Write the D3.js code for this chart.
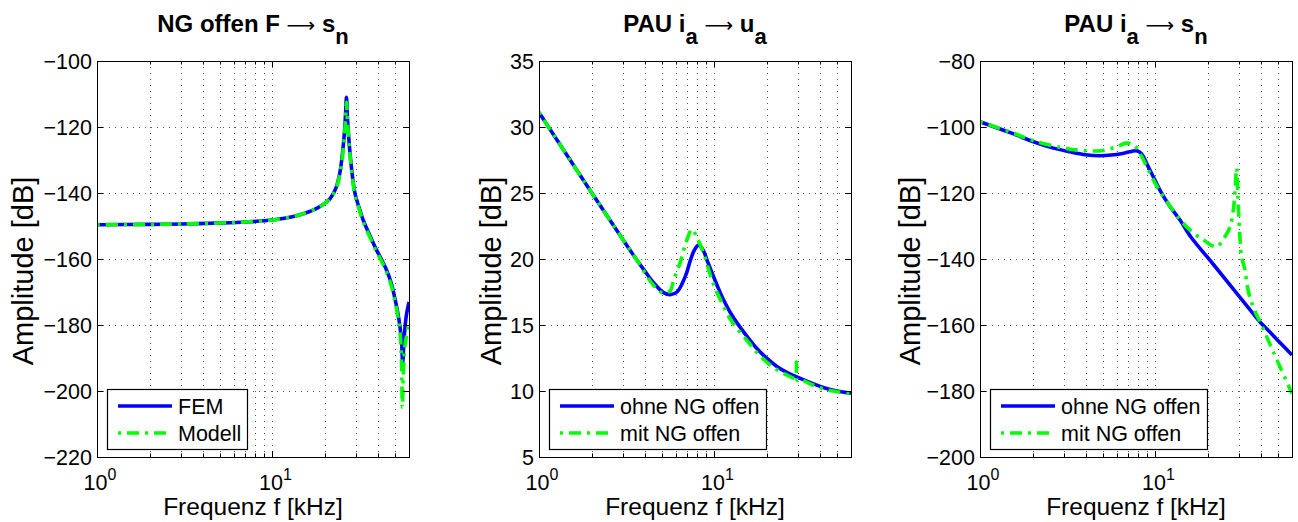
<!DOCTYPE html>
<html>
<head>
<meta charset="utf-8">
<script src="https://cdn.jsdelivr.net/npm/d3@7/dist/d3.min.js"></script>
<style>
  html, body { margin: 0; padding: 0; background: #fff; }
  svg { display: block; }
  text { font-family: "Liberation Sans", Arial, Helvetica, sans-serif; fill: #000; }
</style>
</head>
<body>
<svg id="chart" width="1298" height="522"></svg>
<script>
// ---------- DATA ----------
// Plot 1: NG offen F -> s_n
const freqFEM1 = [1, 2, 3, 5, 7, 10, 13, 15, 18, 20, 21.3, 23, 24.2, 25.5, 26.1, 26.4, 26.8, 27.9, 29.5, 31, 32.9, 36, 39.2, 42, 44.8, 47.5, 49.9, 51.8, 53.3, 54.5, 55.2, 56.3, 57.8, 60];
const ampFEM1  = [-149.6, -149.5, -149.4, -149.1, -148.8, -148.2, -147.2, -146.3, -144.6, -143.0, -141.7, -138.5, -134, -124, -116, -111, -118, -130, -140, -144, -148.2, -153, -157.3, -160.3, -163.5, -167.3, -172.0, -176.3, -180.5, -185.5, -191.5, -184, -177.5, -173];
const freqMod1 = [1, 2, 3, 5, 7, 10, 13, 15, 18, 20, 21.3, 23, 24.2, 25.5, 26.1, 26.4, 26.8, 27.9, 29.5, 31, 32.9, 36, 39.2, 42, 44.8, 47.5, 49.9, 51.8, 53.3, 54.3, 55, 55.7, 57, 60];
const ampMod1  = [-149.6, -149.5, -149.4, -149.1, -148.8, -148.2, -147.2, -146.3, -144.6, -143.0, -141.8, -138.7, -134.5, -125, -117.5, -112.5, -119, -130.5, -140.5, -144.5, -148.8, -153.5, -157.8, -160.8, -164.1, -168.0, -172.8, -177.3, -182, -190, -205, -195, -186, -179.5];

// Plot 2: PAU i_a -> u_a
const freqOhne2 = [1, 2, 3, 3.62, 4.0, 4.5, 5.13, 5.6, 6.12, 6.83, 7.29, 7.7, 8.13, 8.6, 9.08, 10, 11, 12.5, 15.4, 17.5, 20, 22.8, 26, 29.7, 35, 42.1, 50, 60];
const ampOhne2  = [31.1, 25.0, 21.5, 19.9, 19.1, 18.2, 17.45, 17.3, 17.5, 18.7, 19.9, 20.7, 21.05, 20.7, 19.9, 18.5, 17.2, 15.8, 14.1, 13.2, 12.45, 11.84, 11.39, 11.05, 10.65, 10.25, 10.0, 9.83];
const freqMit2  = [1, 2, 3, 3.62, 4.5, 5.13, 5.6, 5.85, 6.4, 6.9, 7.45, 7.95, 8.7, 9.5, 10, 11, 12.5, 15.4, 17.5, 20, 22.8, 26, 28.8, 29.3, 29.7, 30.5, 35, 42.1, 50, 60];
const ampMit2   = [31.1, 25.0, 21.5, 19.9, 18.0, 17.4, 17.6, 18.4, 19.8, 21.3, 22.25, 21.6, 20.4, 18.7, 17.9, 16.7, 15.3, 13.8, 12.9, 12.15, 11.6, 11.2, 11.0, 12.2, 10.8, 10.9, 10.55, 10.15, 9.95, 9.8];

// Plot 3: PAU i_a -> s_n
const freqOhne3 = [1, 1.5, 2, 2.5, 3.25, 4, 4.8, 5.6, 6.5, 7.3, 7.8, 8.3, 8.9, 9.7, 10.6, 12, 13.8, 16, 20.4, 25, 30, 35, 39.3, 45, 52, 60];
const ampOhne3  = [-98.4, -101.8, -104.4, -106.1, -107.5, -108.4, -108.7, -108.5, -108, -107.4, -107.2, -108, -111, -115, -119.1, -123.8, -128.2, -133.5, -140.3, -146.1, -151.3, -155.7, -159, -162.2, -165.7, -169.1];
const freqMit3  = [1, 1.5, 2, 3, 4, 5, 6, 6.8, 7.5, 8.2, 9.3, 10.6, 13.8, 15.7, 18.7, 22.3, 24.5, 26.5, 27.8, 28.5, 29, 29.5, 30.2, 31, 32.3, 33.3, 34.5, 37, 40.2, 45, 51, 60];
const ampMit3   = [-98.4, -101.6, -104.1, -106.4, -107.2, -107.1, -106, -104.9, -105.4, -108.2, -114, -119.5, -128, -131.2, -134.2, -136.3, -133.8, -130.5, -125, -118, -112.5, -121, -132, -139.5, -143, -148, -151.5, -156, -160, -165.9, -172.4, -180.8];

// Axis tick definitions
const xMajorTicks = [1, 10];
const xMinorTicks = [2, 3, 4, 5, 6, 7, 8, 9, 20, 30, 40, 50];
const yTicks1 = [-220, -200, -180, -160, -140, -120, -100];
const yTicks2 = [5, 10, 15, 20, 25, 30, 35];
const yTicks3 = [-200, -180, -160, -140, -120, -100, -80];

const titles = [
  [["NG offen F ", 0], ["\u27F6", 2], [" s", 0], ["n", 1]],
  [["PAU i", 0], ["a", 1], [" ", 0], ["\u27F6", 2], [" u", 0], ["a", 1]],
  [["PAU i", 0], ["a", 1], [" ", 0], ["\u27F6", 2], [" s", 0], ["n", 1]]
];
const legends = [
  ["FEM", "Modell"],
  ["ohne NG offen", "mit NG offen"],
  ["ohne NG offen", "mit NG offen"]
];
const xLabel = "Frequenz f [kHz]";
const yLabel = "Amplitude [dB]";

// ---------- LAYOUT ----------
const svg = d3.select("#chart");
const plotTop = 61, plotBottom = 457;
const panels = [
  { left: 97,  right: 409,  yDomain: [-220, -100], yTicks: yTicks1, ylx: 33,
    series: [{f: freqFEM1, a: ampFEM1}, {f: freqMod1, a: ampMod1}], legendW: 140 },
  { left: 539, right: 851,  yDomain: [5, 35], yTicks: yTicks2, ylx: 501,
    series: [{f: freqOhne2, a: ampOhne2}, {f: freqMit2, a: ampMit2}], legendW: 217 },
  { left: 980, right: 1292, yDomain: [-200, -80], yTicks: yTicks3, ylx: 920,
    series: [{f: freqOhne3, a: ampOhne3}, {f: freqMit3, a: ampMit3}], legendW: 217 }
];
const styles = [
  { color: "#0000ff", dash: null },
  { color: "#00ff00", dash: "3,6,12,6" }
];
const lw = 3.6;

panels.forEach((p, i) => {
  const x = d3.scaleLog().domain([1, 60]).range([p.left, p.right]);
  const y = d3.scaleLinear().domain(p.yDomain).range([plotBottom, plotTop]);
  const g = svg.append("g");

  // grid
  const grid = g.append("g").attr("stroke", "#222").attr("stroke-width", 1)
    .attr("stroke-dasharray", "1,5").attr("fill", "none").attr("opacity", 0.75);
  xMajorTicks.concat(xMinorTicks).forEach(t => {
    const xx = Math.round(x(t)) + 0.5;
    if (xx > p.left + 1 && xx < p.right - 1)
      grid.append("line").attr("x1", xx).attr("x2", xx).attr("y1", plotTop).attr("y2", plotBottom);
  });
  p.yTicks.forEach(t => {
    const yy = Math.round(y(t)) + 0.5;
    if (yy > plotTop + 1 && yy < plotBottom - 1)
      grid.append("line").attr("x1", p.left).attr("x2", p.right).attr("y1", yy).attr("y2", yy);
  });

  // clip
  const clipId = "clip" + i;
  svg.append("clipPath").attr("id", clipId).append("rect")
    .attr("x", p.left).attr("y", plotTop).attr("width", p.right - p.left).attr("height", plotBottom - plotTop);

  // series
  p.series.forEach((s, k) => {
    const pts = s.f.map((f, j) => [f, s.a[j]]);
    const line = d3.line().x(d => x(d[0])).y(d => y(d[1])).curve(d3.curveCatmullRom.alpha(0.5));
    const path = g.append("path").attr("d", line(pts)).attr("fill", "none")
      .attr("stroke", styles[k].color).attr("stroke-width", lw)
      .attr("stroke-linejoin", "round").attr("clip-path", `url(#${clipId})`);
    if (styles[k].dash) path.attr("stroke-dasharray", styles[k].dash);
  });

  // box
  g.append("rect").attr("x", p.left + 0.5).attr("y", plotTop + 0.5)
    .attr("width", p.right - p.left).attr("height", plotBottom - plotTop)
    .attr("fill", "none").attr("stroke", "#000").attr("stroke-width", 1);

  // ticks (inward, all sides)
  const tk = g.append("g").attr("stroke", "#000").attr("stroke-width", 1);
  xMajorTicks.concat(xMinorTicks).forEach(t => {
    const xx = Math.round(x(t)) + 0.5;
    const len = xMajorTicks.includes(t) ? 6 : 3.5;
    tk.append("line").attr("x1", xx).attr("x2", xx).attr("y1", plotBottom).attr("y2", plotBottom - len);
    tk.append("line").attr("x1", xx).attr("x2", xx).attr("y1", plotTop).attr("y2", plotTop + len);
  });
  p.yTicks.forEach(t => {
    const yy = Math.round(y(t)) + 0.5;
    tk.append("line").attr("x1", p.left).attr("x2", p.left + 6).attr("y1", yy).attr("y2", yy);
    tk.append("line").attr("x1", p.right).attr("x2", p.right - 6).attr("y1", yy).attr("y2", yy);
  });

  // y tick labels
  p.yTicks.forEach(t => {
    g.append("text").attr("x", p.left - 5).attr("y", y(t)).attr("dy", "0.35em")
      .attr("text-anchor", "end").attr("font-size", 21.5)
      .text(t < 0 ? "\u2212" + Math.abs(t) : String(t));
  });

  // x tick labels 10^k
  xMajorTicks.forEach(t => {
    const txt = g.append("text").attr("x", x(t) + 3).attr("y", 490)
      .attr("text-anchor", "middle").attr("font-size", 21.5);
    txt.append("tspan").text("10");
    txt.append("tspan").attr("font-size", 16).attr("dy", -10).text(String(Math.round(Math.log10(t))));
  });

  // x label
  g.append("text").attr("x", (p.left + p.right) / 2).attr("y", 515)
    .attr("text-anchor", "middle").attr("font-size", 24.5).text(xLabel);

  // y label
  g.append("text").attr("transform", `translate(${p.ylx},271) rotate(-90)`)
    .attr("text-anchor", "middle").attr("font-size", 29).text(yLabel);

  // title
  const tt = g.append("text").attr("x", (p.left + p.right) / 2).attr("y", 32)
    .attr("text-anchor", "middle").attr("font-size", 24).attr("font-weight", "bold");
  let shifted = false;
  titles[i].forEach(([str, kind]) => {
    const ts = tt.append("tspan").text(str);
    if (kind === 1) { ts.attr("dy", 12).attr("font-size", 22); shifted = true; }
    else {
      if (shifted) { ts.attr("dy", -12); shifted = false; }
      if (kind === 2) ts.attr("font-weight", "normal").attr("font-family", "DejaVu Sans").attr("font-size", 20);
    }
  });

  // legend
  const lx = p.left + 10, ly = 389, lh = 60;
  const lg = g.append("g");
  lg.append("rect").attr("x", lx + 0.5).attr("y", ly + 0.5).attr("width", p.legendW).attr("height", lh)
    .attr("fill", "#fff").attr("stroke", "#000").attr("stroke-width", 1.2);
  legends[i].forEach((name, k) => {
    const yy = ly + 17 + k * 27;
    const ln = lg.append("line").attr("x1", lx + 11).attr("x2", lx + 65).attr("y1", yy).attr("y2", yy)
      .attr("stroke", styles[k].color).attr("stroke-width", lw);
    if (styles[k].dash) ln.attr("stroke-dasharray", styles[k].dash);
    lg.append("text").attr("x", lx + 71).attr("y", yy).attr("dy", "0.36em")
      .attr("font-size", 21.5).text(name);
  });
});
</script>
</body>
</html>
